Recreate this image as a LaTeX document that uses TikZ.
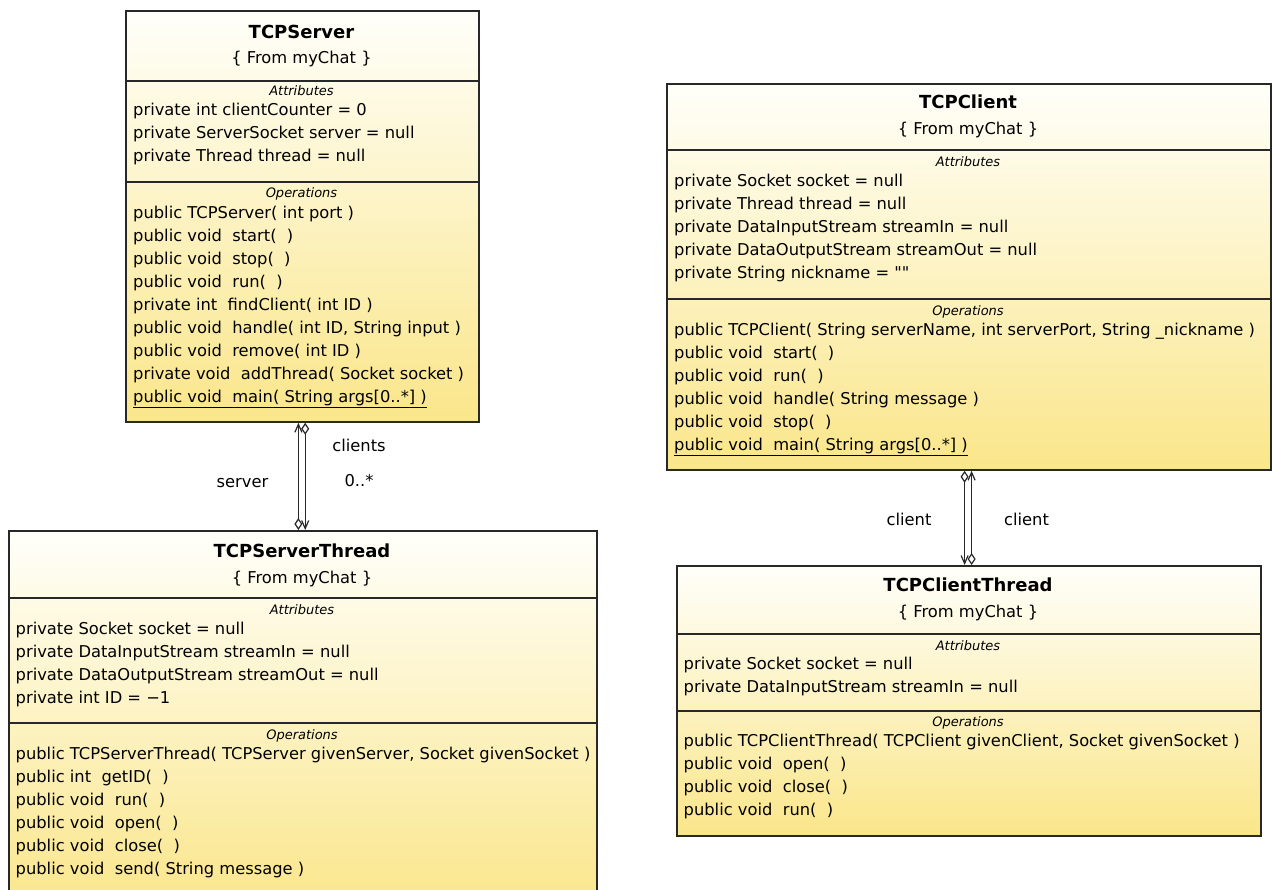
\documentclass[tikz,border=0pt]{standalone}
\usepackage{fontspec}
\setmainfont{DejaVu Sans}[Ligatures=TeXOff]
\usetikzlibrary{arrows.meta,positioning,calc}
\definecolor{umltop}{RGB}{255,255,250}
\definecolor{umlbottom}{RGB}{250,230,138}
\definecolor{umldark}{RGB}{40,40,40}

\begin{document}
\begin{tikzpicture}[x=1pt,y=1pt,
  umlclass/.style={draw=umldark,line width=1.8pt,top color=umltop,bottom color=umlbottom,
    anchor=north west,inner sep=0pt},
  umlname/.style={font=\fontsize{18}{22}\selectfont\bfseries,anchor=base,inner sep=0pt},
  umlpkg/.style={font=\fontsize{16.3}{23}\selectfont,anchor=base,inner sep=0pt},
  umlsec/.style={font=\fontsize{13}{16}\selectfont\itshape,anchor=base,inner sep=0pt},
  umlmembers/.style={font=\fontsize{16.3}{23}\selectfont,align=left,anchor=north west,
    inner sep=0pt,execute at begin node=\strut},
  umlsep/.style={draw=umldark,line width=1.6pt},
  umllink/.style={umldark,line width=1.2pt},
  umlrole/.style={font=\fontsize{16.3}{20}\selectfont,anchor=base,inner sep=0pt}
]
  \useasboundingbox (0,0) rectangle (1272,-890);
  \clip (0,0) rectangle (1272,-890);

  % TCPServer
  \node[umlclass,minimum width=353pt,minimum height=411pt] (server) at (125,-10) {};
  \node[umlname] (server-name) at (301.5,-38.3) {TCPServer};
  \node[umlpkg] (server-pkg) at (301.5,-64) {\{ From myChat \}};
  \draw[umlsep] (server.west |- 0,-81) -- (server.east |- 0,-81);
  \node[umlsec] (server-attr) at (301.5,-96) {Attributes};
  \node[umlmembers] (server-attrs) at (133,-103.4) {
    private int clientCounter = 0\\
    private ServerSocket server = null\\
    private Thread thread = null};
  \draw[umlsep] (server.west |- 0,-182) -- (server.east |- 0,-182);
  \node[umlsec] (server-op) at (301.5,-198) {Operations};
  \node[umlmembers] (server-ops) at (133,-205.7) {
    public TCPServer( int port )\\
    public void~~start(~~)\\
    public void~~stop(~~)\\
    public void~~run(~~)\\
    private int~~findClient( int ID )\\
    public void~~handle( int ID, String input )\\
    public void~~remove( int ID )\\
    private void~~addThread( Socket socket )\\
    \underline{public void~~main( String args[0..*] )}};

  % TCPClient
  \node[umlclass,minimum width=604pt,minimum height=386pt] (client) at (666,-83) {};
  \node[umlname] (client-name) at (968,-108.5) {TCPClient};
  \node[umlpkg] (client-pkg) at (968,-135) {\{ From myChat \}};
  \draw[umlsep] (client.west |- 0,-150) -- (client.east |- 0,-150);
  \node[umlsec] (client-attr) at (968,-167) {Attributes};
  \node[umlmembers] (client-attrs) at (674,-174.4) {
    private Socket socket = null\\
    private Thread thread = null\\
    private DataInputStream streamIn = null\\
    private DataOutputStream streamOut = null\\
    private String nickname = ""};
  \draw[umlsep] (client.west |- 0,-299) -- (client.east |- 0,-299);
  \node[umlsec] (client-op) at (968,-316) {Operations};
  \node[umlmembers] (client-ops) at (674,-322.7) {
    public TCPClient( String serverName, int serverPort, String \_nickname )\\
    public void~~start(~~)\\
    public void~~run(~~)\\
    public void~~handle( String message )\\
    public void~~stop(~~)\\
    \underline{public void~~main( String args[0..*] )}};

  % TCPServerThread
  \node[umlclass,minimum width=588pt,minimum height=380pt] (serverthread) at (8,-530) {};
  \node[umlname] (serverthread-name) at (302,-557) {TCPServerThread};
  \node[umlpkg] (serverthread-pkg) at (302,-583) {\{ From myChat \}};
  \draw[umlsep] (serverthread.west |- 0,-598) -- (serverthread.east |- 0,-598);
  \node[umlsec] (serverthread-attr) at (302,-614.5) {Attributes};
  \node[umlmembers] (serverthread-attrs) at (15.5,-621.7) {
    private Socket socket = null\\
    private DataInputStream streamIn = null\\
    private DataOutputStream streamOut = null\\
    private int ID = −1};
  \draw[umlsep] (serverthread.west |- 0,-723) -- (serverthread.east |- 0,-723);
  \node[umlsec] (serverthread-op) at (302,-739.5) {Operations};
  \node[umlmembers] (serverthread-ops) at (15.5,-746.7) {
    public TCPServerThread( TCPServer givenServer, Socket givenSocket )\\
    public int~~getID(~~)\\
    public void~~run(~~)\\
    public void~~open(~~)\\
    public void~~close(~~)\\
    public void~~send( String message )};

  % TCPClientThread
  \node[umlclass,minimum width=584pt,minimum height=270pt] (clientthread) at (676,-565) {};
  \node[umlname] (clientthread-name) at (968,-591.5) {TCPClientThread};
  \node[umlpkg] (clientthread-pkg) at (968,-617.5) {\{ From myChat \}};
  \draw[umlsep] (clientthread.west |- 0,-634) -- (clientthread.east |- 0,-634);
  \node[umlsec] (clientthread-attr) at (968,-650) {Attributes};
  \node[umlmembers] (clientthread-attrs) at (683.5,-657.4) {
    private Socket socket = null\\
    private DataInputStream streamIn = null};
  \draw[umlsep] (clientthread.west |- 0,-711) -- (clientthread.east |- 0,-711);
  \node[umlsec] (clientthread-op) at (968,-726.5) {Operations};
  \node[umlmembers] (clientthread-ops) at (683.5,-734.1) {
    public TCPClientThread( TCPClient givenClient, Socket givenSocket )\\
    public void~~open(~~)\\
    public void~~close(~~)\\
    public void~~run(~~)};

  % server -- serverthread
  \draw[umllink,{Straight Barb[length=8pt,width=7pt]}-{Diamond[fill=white,length=12pt,width=8pt]}]
    ([xshift=-4pt]server.south) -- ([xshift=-4.5pt]serverthread.north);
  \draw[umllink,{Diamond[fill=white,length=12pt,width=8pt]}-{Straight Barb[length=8pt,width=7pt]}]
    ([xshift=2.8pt]server.south) -- ([xshift=2.3pt]serverthread.north);
  \node[umlrole] (role-server) at (242.5,-487) {server};
  \node[umlrole] (role-clients) at (359,-452) {clients};
  \node[umlrole] (mult-clients) at (359,-486) {0..*};

  % client -- clientthread
  \draw[umllink,{Diamond[fill=white,length=12pt,width=8pt]}-{Straight Barb[length=8pt,width=7pt]}]
    ([xshift=-4.3pt]client.south) -- ([xshift=-4.3pt]clientthread.north);
  \draw[umllink,{Straight Barb[length=8pt,width=7pt]}-{Diamond[fill=white,length=12pt,width=8pt]}]
    ([xshift=2.7pt]client.south) -- ([xshift=2.7pt]clientthread.north);
  \node[umlrole] (role-client-left) at (909,-525.5) {client};
  \node[umlrole] (role-client-right) at (1026.5,-525.5) {client};
\end{tikzpicture}
\end{document}
